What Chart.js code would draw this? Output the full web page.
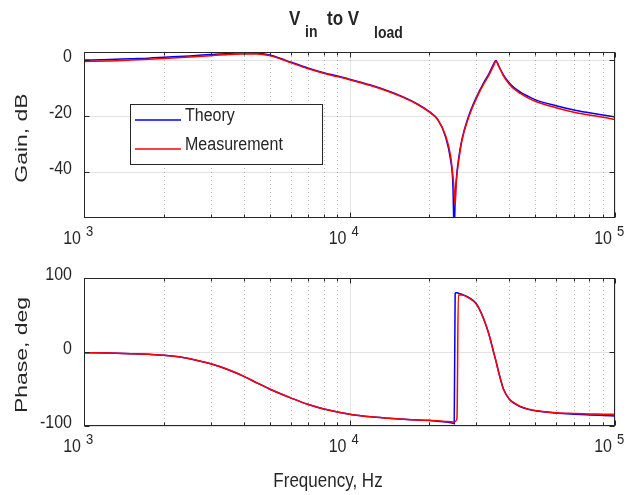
<!DOCTYPE html>
<html>
<head>
<script src="https://cdn.jsdelivr.net/npm/chart.js@4"></script>
<style>
  body { margin: 0; background: #fff; }
  #wrap { position: relative; width: 628px; height: 495px; }
  canvas { position: absolute; left: 0; }
</style>
</head>
<body>
<div id="wrap">
  <canvas id="gain" width="628" height="250" style="top:0"></canvas>
  <canvas id="phase" width="628" height="245" style="top:250px"></canvas>
</div>
<script>
// frequency grid, Hz
const freq = [1000, 1250, 1500, 1750, 2000, 2500, 3000, 3500, 4000, 4500, 5000, 5500, 6000, 7000, 8000, 9000,
  10000, 12000, 14000, 16000, 18000, 20000, 21500, 23000, 24000, 24500, 24800, 25000, 25200, 25400, 25700, 26500,
  28000, 30000, 32000, 33500, 35000, 35600, 36500, 38000, 40000, 42000, 44000, 47000, 50000, 60000, 70000, 80000,
  90000, 100000];

// gain, dB
const gainTheory = [-0.1, 0.1, 0.4, 0.6, 0.9, 1.4, 1.9, 2.3, 2.5, 2.4, 1.7, 0.5, -0.8, -3.0, -4.6, -5.8,
  -6.9, -9.0, -11.1, -13.3, -15.7, -18.5, -21.3, -27.5, -35.5, -44, -62, -50, -44, -40, -36, -28.5,
  -20.5, -13.5, -8.2, -5.0, -1.3, -0.2, -2.2, -5.4, -8.3, -10.2, -11.5, -13.0, -14.2, -16.4, -17.9, -18.9,
  -19.7, -20.4];
const gainMeas = [-0.6, -0.4, -0.1, 0.2, 0.5, 1.0, 1.5, 1.9, 2.1, 2.1, 1.5, 0.3, -1.0, -3.2, -4.8, -6.0,
  -7.1, -9.2, -11.3, -13.5, -15.9, -18.7, -21.4, -27, -34, -41, -47, -52, -45, -41, -37, -29,
  -21, -14, -8.7, -5.5, -1.8, -0.5, -2.3, -5.7, -8.7, -10.7, -12.0, -13.6, -14.8, -17.1, -18.7, -19.7,
  -20.5, -21.3];

// phase, deg
const phaseTheory = [-1, -1.5, -2.2, -3.2, -4.5, -9, -16, -24, -33, -42, -50, -56.5, -62, -71, -77, -81,
  -84, -87.5, -89.5, -91, -92, -92.5, -93.5, -94.5, -95.5, -96.2, -97, 79, 80, 80, 79.5, 78,
  74, 65.5, 45, 24, -2, -12, -28, -50, -64, -70, -74, -77.5, -79.5, -82.5, -84, -85,
  -85.8, -86.5];
const phaseMeas = [-1, -1.5, -2.2, -3.2, -4.5, -9, -16, -24, -33, -42, -50, -56.5, -62, -71, -77, -81,
  -84, -87.5, -89.5, -91, -92, -92.3, -93, -93.8, -94.3, -94.5, -94.5, -94, -93, -89, 77, 77,
  73.5, 65, 45, 24, -2, -12, -28, -50, -63.5, -69.5, -73.5, -77, -79, -82, -83, -83.7,
  -84, -84.3];

const decades = [3, 4, 5];
const gainTicks = [-40, -20, 0];
const phaseTicks = [-100, 0, 100];

const ink = '#262626';
const family = '"Liberation Sans", Arial, Helvetica, sans-serif';
const SY = 1.15;      // text in the reference looks taller than wide
const SY_ROT = 1.35;  // rotated labels are stretched along their length

function minorFreqs() {
  const v = [];
  decades.slice(0, -1).forEach(d => { for (let k = 2; k <= 9; k++) v.push(k * Math.pow(10, d)); });
  return v;
}

function line(ctx, x1, y1, x2, y2) {
  ctx.beginPath(); ctx.moveTo(x1, y1); ctx.lineTo(x2, y2); ctx.stroke();
}

function text(ctx, str, x, y, font, align, sy, rotate) {
  ctx.save();
  ctx.translate(x, y);
  ctx.scale(1, sy);
  if (rotate) ctx.rotate(-Math.PI / 2);
  ctx.font = font;
  ctx.textAlign = align;
  ctx.textBaseline = 'middle';
  ctx.fillText(str, 0, 0);
  ctx.restore();
}

// matlab-ish box, grid, ticks and labels
function matlabAxes(cfg) {
  return {
    id: 'matlabAxes',
    beforeDatasetsDraw(chart) {
      const {ctx, chartArea: a, scales: {x, y}} = chart;
      ctx.save();
      ctx.lineWidth = 1;
      ctx.strokeStyle = 'rgba(38,38,38,0.3)';
      ctx.setLineDash([1, 3]);
      minorFreqs().forEach(f => {
        const px = Math.round(x.getPixelForValue(f)) + 0.5;
        line(ctx, px, a.top, px, a.bottom);
      });
      ctx.setLineDash([]);
      ctx.strokeStyle = 'rgba(38,38,38,0.13)';
      decades.forEach(d => {
        const px = Math.round(x.getPixelForValue(Math.pow(10, d))) + 0.5;
        line(ctx, px, a.top, px, a.bottom);
      });
      cfg.ticks.forEach(v => {
        const py = Math.round(y.getPixelForValue(v)) + 0.5;
        line(ctx, a.left, py, a.right, py);
      });
      ctx.restore();
    },
    afterDatasetsDraw(chart) {
      const {ctx, chartArea: a, scales: {x, y}} = chart;
      const l = a.left + 0.5, r = a.right - 0.5, t = a.top + 0.5, b = a.bottom - 0.5;
      ctx.save();
      ctx.lineWidth = 1;
      ctx.strokeStyle = ink;
      ctx.strokeRect(l, t, r - l, b - t);
      minorFreqs().forEach(f => {
        const px = Math.round(x.getPixelForValue(f)) + 0.5;
        line(ctx, px, b, px, b - 3);
        line(ctx, px, t, px, t + 3);
      });
      decades.forEach(d => {
        const px = Math.round(x.getPixelForValue(Math.pow(10, d))) + 0.5;
        line(ctx, px, b, px, b - 5);
        line(ctx, px, t, px, t + 5);
      });
      cfg.ticks.forEach(v => {
        const py = Math.round(y.getPixelForValue(v)) + 0.5;
        line(ctx, l, py, l + 5, py);
        line(ctx, r, py, r - 5, py);
      });
      ctx.restore();
    },
    afterDraw(chart) {
      const {ctx, chartArea: a, scales: {x, y}} = chart;
      ctx.save();
      ctx.fillStyle = ink;
      const f16 = '16px ' + family;
      // x tick labels 10^n
      decades.forEach(d => {
        const px = x.getPixelForValue(Math.pow(10, d));
        text(ctx, '10', px - 3, a.bottom + 21, f16, 'right', SY);
        text(ctx, String(d), px + 2, a.bottom + 14, '13px ' + family, 'left', SY);
      });
      // y tick labels
      cfg.ticks.forEach(v => {
        text(ctx, String(v), 72, y.getPixelForValue(v) - 3, f16, 'right', SY);
      });
      // axis titles
      text(ctx, cfg.yTitle, 22, (a.top + a.bottom) / 2 + 3, '17px ' + family, 'center', SY_ROT, true);
      if (cfg.xTitle) {
        text(ctx, cfg.xTitle, 328, a.bottom + 56, '17px ' + family, 'center', SY);
      }
      if (cfg.title) {
        const fb = 'bold 17px ' + family, fs = 'bold 14px ' + family;
        text(ctx, 'V', 289, 20, fb, 'left', SY);
        text(ctx, 'in', 305, 33, fs, 'left', SY);
        text(ctx, 'to V', 327, 20, fb, 'left', SY);
        text(ctx, 'load', 374, 34, fs, 'left', SY);
      }
      if (cfg.legend) {
        ctx.fillStyle = '#fff';
        ctx.fillRect(130, 104, 192, 60);
        ctx.strokeStyle = ink;
        ctx.lineWidth = 1;
        ctx.strokeRect(130.5, 104.5, 192, 60);
        chart.data.datasets.forEach((ds, i) => {
          const ly = 120 + i * 29;
          ctx.strokeStyle = ds.borderColor;
          ctx.lineWidth = 1.5;
          line(ctx, 135, ly, 181, ly);
          ctx.fillStyle = ink;
          text(ctx, ds.label, 185, ly - 4, f16, 'left', SY);
        });
      }
      ctx.restore();
    }
  };
}

function bodeChart(id, theory, meas, yMin, yMax, cfg, pad) {
  return new Chart(document.getElementById(id), {
    type: 'line',
    data: {
      datasets: [
        { label: 'Theory', data: freq.map((f, i) => ({x: f, y: theory[i]})), borderColor: '#0000ff', order: 1 },
        { label: 'Measurement', data: freq.map((f, i) => ({x: f, y: meas[i]})), borderColor: '#ff0000', order: 0 }
      ]
    },
    options: {
      responsive: false,
      animation: false,
      layout: { padding: pad },
      elements: {
        point: { radius: 0 },
        line: { borderWidth: 1.5, cubicInterpolationMode: 'monotone', fill: false }
      },
      plugins: { legend: { display: false }, tooltip: { enabled: false } },
      scales: {
        x: { type: 'logarithmic', min: 1000, max: 100000, display: false },
        y: { min: yMin, max: yMax, display: false }
      }
    },
    plugins: [matlabAxes(cfg)]
  });
}

bodeChart('gain', gainTheory, gainMeas, -56.5, 2.8,
  { ticks: gainTicks, yTitle: 'Gain, dB', title: true, legend: true },
  { left: 84, right: 13, top: 52, bottom: 32 });
bodeChart('phase', phaseTheory, phaseMeas, -100, 100,
  { ticks: phaseTicks, yTitle: 'Phase, deg', xTitle: 'Frequency, Hz' },
  { left: 84, right: 13, top: 28, bottom: 69 });
</script>
</body>
</html>
